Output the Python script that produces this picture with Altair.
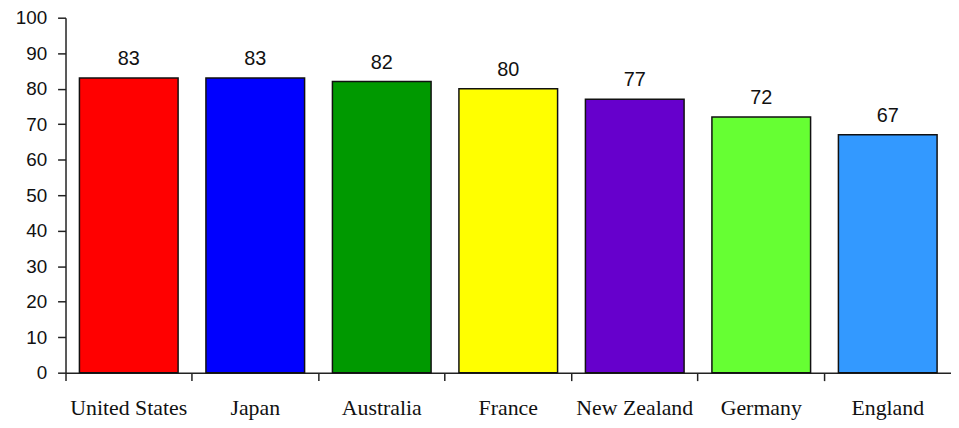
import altair as alt
import pandas as pd

countries = ["United States", "Japan", "Australia", "France", "New Zealand", "Germany", "England"]
values = [83, 83, 82, 80, 77, 72, 67]
colors = ["#FF0000", "#0000FF", "#009900", "#FFFF00", "#6600CC", "#66FF33", "#3399FF"]
y_ticks = [0, 10, 20, 30, 40, 50, 60, 70, 80, 90, 100]

df = pd.DataFrame({"country": countries, "value": values})

x = alt.X("country:N", sort=None, title=None,
          scale=alt.Scale(paddingInner=0, paddingOuter=0),
          axis=alt.Axis(labelAngle=0, bandPosition=0, tickSize=8, tickColor="#222",
                        domainColor="#222", domainWidth=1.5, tickWidth=1.5,
                        labelFont="Liberation Serif", labelFontSize=22, labelColor="#111",
                        labelPadding=17, grid=False, labelOverlap=False))
y = alt.Y("value:Q", title=None,
          scale=alt.Scale(domain=[0, 100], nice=False),
          axis=alt.Axis(values=y_ticks, tickSize=8, tickColor="#222",
                        domainColor="#222", domainWidth=1.5, tickWidth=1.5,
                        labelFont="Liberation Sans", labelFontSize=19, labelColor="#111",
                        labelPadding=11, grid=False, labelOverlap=False))

base = alt.Chart(df).encode(x=x, y=y)

bars = base.mark_bar(stroke="#111", strokeWidth=1.5,
                     width=alt.RelativeBandSize(0.78)).encode(
    color=alt.Color("country:N", sort=None, legend=None,
                    scale=alt.Scale(domain=countries, range=colors)),
)

labels = base.mark_text(baseline="bottom", dy=-9, font="Liberation Sans",
                        fontSize=20, color="#111").encode(text="value:Q")

chart = alt.layer(bars, labels).properties(
    width=893, height=358,
    autosize=alt.AutoSizeParams(type="none"),
    padding={"left": 58, "top": 8, "right": 0, "bottom": 54},
).configure_view(stroke=None)

chart.save("out.html", embed_options={"renderer": "svg", "actions": False})
